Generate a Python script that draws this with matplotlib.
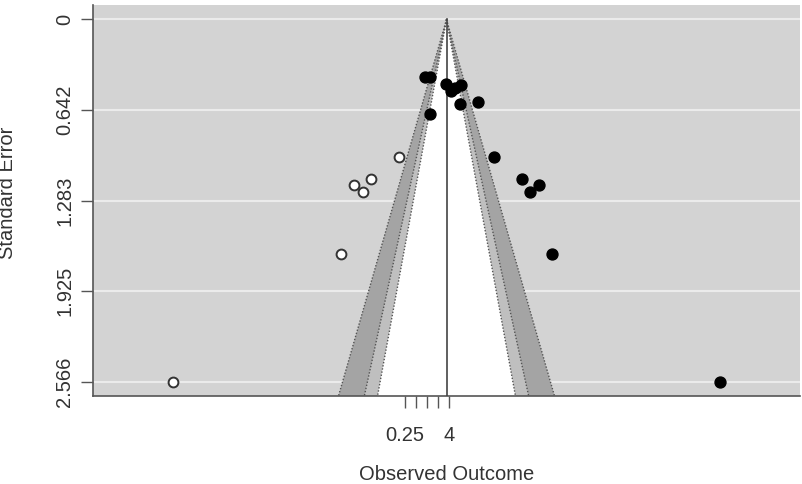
import matplotlib
matplotlib.use('Agg')
import matplotlib.pyplot as plt
import numpy as np

plt.rcParams['font.family'] = ['Liberation Sans', 'DejaVu Sans']

# pooled (trim-and-fill) estimate, log scale
theta = 1.24

# observed studies (log outcome, standard error)
obs_yi = [-0.14, 0.18, 1.20, 1.51, 1.77, 2.15, 3.23, 2.09, 0.18,
          4.25, 6.04, 6.55, 7.12, 7.95, 18.65]
obs_se = [0.405, 0.405, 0.455, 0.505, 0.483, 0.462, 0.583, 0.597, 0.668,
          0.974, 1.130, 1.222, 1.173, 1.663, 2.566]

# filled-in studies
fill_yi = [-1.77, -3.56, -4.07, -4.64, -5.47, -16.17]
fill_se = [0.974, 1.130, 1.222, 1.173, 1.663, 2.566]

ytick_vals = [0, 0.642, 1.283, 1.925, 2.566]
ytick_labels = ['0', '0.642', '1.283', '1.925', '2.566']
xtick_vals = [0.25, 0.5, 1, 2, 4]
xtick_labels = ['0.25', '', '', '', '4']

levels_z = [2.576, 1.96, 1.645]
shades = ['#a4a4a4', '#bfbfbf', 'white']

fig = plt.figure(figsize=(8.03, 4.84), dpi=100)
ax = fig.add_axes([93/803, 1-396/484, 707/803, 391/484])
ax.set_facecolor('#d3d3d3')

semax = max(obs_se)
ylo, yhi = -0.04*semax, semax*1.04
ax.set_ylim(yhi, ylo)
ax.set_xlim(theta-22.5, theta+22.5)

for v in ytick_vals:
    ax.axhline(v, color='#ebebeb', lw=1.5, zorder=1)

# contour regions
for z, c in zip(levels_z, shades):
    xs = [theta - z*yhi, theta, theta + z*yhi]
    ys = [yhi, 0, yhi]
    ax.fill(xs, ys, color=c, lw=0, zorder=2)
for z in levels_z:
    for s in (-1, 1):
        ax.plot([theta, theta + s*z*yhi], [0, yhi], color='#555555', lw=1,
                linestyle=(0, (1, 1.3)), zorder=3)

ax.plot([theta, theta], [0, yhi], color='#444444', lw=1.2, zorder=3)

ax.scatter(obs_yi, obs_se, s=62, c='black', edgecolors='black', zorder=5)
ax.scatter(fill_yi, fill_se, s=50, c='white', edgecolors='#333333',
           linewidths=1.4, zorder=5)

ax.set_yticks(ytick_vals)
ax.set_yticklabels(ytick_labels, rotation=90, va='center', fontsize=14.5,
                   color='#333333')
ax.set_xticks(np.log(xtick_vals))
ax.set_xticklabels(xtick_labels, fontsize=14.5, color='#333333')
ax.tick_params(axis='y', length=8.5, width=1, color='#555555', pad=5)
ax.tick_params(axis='x', length=8.5, width=1, color='#555555', pad=13)

for s in ('top', 'right'):
    ax.spines[s].set_visible(False)
for s in ('left', 'bottom'):
    ax.spines[s].set_color('#555555')
    ax.spines[s].set_linewidth(1.2)

fig.text(446.5/803, 1-475/484, 'Observed Outcome', ha='center', va='center',
         fontsize=14.5, color='#333333')
fig.text(8/803, 1-193/484, 'Standard Error', ha='center', va='center',
         rotation=90, fontsize=14.5, color='#333333')

fig.savefig('out.png', dpi=100)
